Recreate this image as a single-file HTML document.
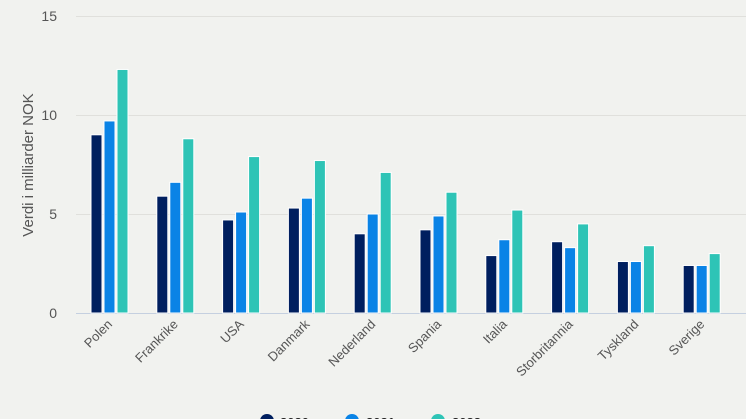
<!DOCTYPE html>
<html><head><meta charset="utf-8"><style>
html,body{margin:0;padding:0;background:#f1f2ef;}
svg{display:block;font-family:"Liberation Sans",sans-serif;}
</style></head><body>
<svg width="746" height="419" viewBox="0 0 746 419" xmlns="http://www.w3.org/2000/svg">
<rect width="746" height="419" fill="#f1f2ef"/>
<g stroke="#e0e0dc" stroke-width="1">
<line x1="76" x2="746" y1="16.5" y2="16.5"/>
<line x1="76" x2="746" y1="115.5" y2="115.5"/>
<line x1="76" x2="746" y1="214.5" y2="214.5"/>
</g>
<line x1="76" x2="746" y1="313.5" y2="313.5" stroke="#c5d0e0" stroke-width="1"/>
<g fill="#555" font-size="14" text-anchor="end">
<text x="57" y="21">15</text>
<text x="57" y="120">10</text>
<text x="57" y="219">5</text>
<text x="57" y="318">0</text>
</g>
<text transform="translate(33,165) rotate(-90)" text-anchor="middle" font-size="15" fill="#555">Verdi i milliarder NOK</text>
<g id="bars" stroke="#fff" stroke-width="1"></g>
<g id="labels" fill="#555" font-size="13" text-anchor="end"></g>
<circle cx="267" cy="421" r="7" fill="#001f5f"/>
<circle cx="352" cy="421" r="7" fill="#0a83e6"/>
<circle cx="438" cy="421" r="7" fill="#2ec4b6"/>
<g font-size="13" font-weight="bold" fill="#222">
<text x="280" y="427">2020</text>
<text x="366" y="427">2021</text>
<text x="452" y="427">2022</text>
</g>
<script>
var d=[["Polen",9.0,9.7,12.3],["Frankrike",5.9,6.6,8.8],["USA",4.7,5.1,7.9],["Danmark",5.3,5.8,7.7],["Nederland",4.0,5.0,7.1],["Spania",4.2,4.9,6.1],["Italia",2.9,3.7,5.2],["Storbritannia",3.6,3.3,4.5],["Tyskland",2.6,2.6,3.4],["Sverige",2.4,2.4,3.0]];
var c=["#001f5f","#0a83e6","#2ec4b6"],ns="http://www.w3.org/2000/svg",b=document.getElementById("bars"),l=document.getElementById("labels");
d.forEach(function(r,i){var cx=109+i*65.8;
[0,1,2].forEach(function(k){var v=r[k+1],h=v*19.8,x=cx-18+k*13;var e=document.createElementNS(ns,"rect");
e.setAttribute("x",x);e.setAttribute("y",313-h);e.setAttribute("width",11);e.setAttribute("height",h);e.setAttribute("fill",c[k]);b.appendChild(e);});
var t=document.createElementNS(ns,"text");t.setAttribute("transform","translate("+(cx+4)+",325) rotate(-45)");t.textContent=r[0];l.appendChild(t);});
</script>
</svg>
</body></html>
